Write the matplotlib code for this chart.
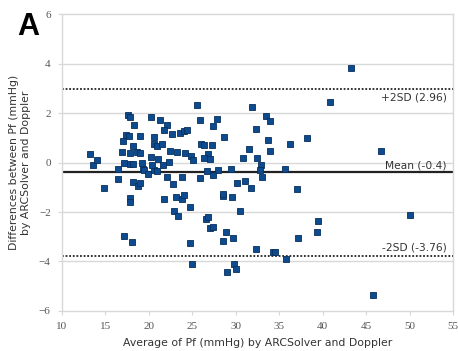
"""
Bland-Altman plot: ARCSolver vs Doppler (panel A)
"""
import matplotlib
matplotlib.use("Agg")
import matplotlib.pyplot as plt

# average of Pf (mmHg) and difference (mmHg)
avg = [13.2, 13.6, 14.05, 14.8, 16.5, 16.5, 16.9, 17.0, 17.2, 17.4,
       17.7, 17.6, 17.9, 17.8, 17.8, 18.2, 18.3, 18.2, 17.8, 17.9,
       17.1, 18.1, 18.2, 18.8, 19.0, 18.6, 19.0, 19.0, 19.2, 19.3,
       19.5, 19.9, 20.6, 21.0, 20.3, 20.6, 20.6, 21.0, 21.5, 20.3,
       21.1, 20.4, 21.6, 21.3, 22.1, 21.8, 22.7, 23.6, 24.05, 24.4,
       22.4, 23.2, 22.3, 24.2, 24.9, 25.1, 22.1, 22.8, 23.8, 21.8,
       23.1, 23.8, 24.0, 22.95, 23.4, 24.8, 24.75, 25.0, 25.6, 25.9,
       27.9, 27.4, 26.05, 26.3, 27.3, 26.8, 26.3, 27.1, 26.7, 28.0,
       25.9, 27.4, 28.65, 26.6, 26.8, 27.1, 27.4, 28.5, 28.6, 29.6,
       28.85, 28.6, 29.7, 29.0, 29.8, 30.0, 30.5, 30.1, 31.1, 31.8,
       33.05, 29.5, 30.9, 31.5, 31.9, 32.3, 32.5, 32.9, 32.8, 33.5,
       34.0, 33.7, 33.9, 35.7, 36.2, 37.0, 37.2, 38.2, 32.3, 34.3,
       34.5, 35.8, 39.5, 39.4, 40.9, 43.25, 46.7, 45.8, 50.0]
diff = [0.33, -0.11, 0.1, -1.04, -0.26, -0.65, 0.44, 0.86, -0.01, 1.11,
        1.07, 1.92, 1.83, 0.37, -0.04, -0.08, 1.52, 0.67, -1.45, -1.58,
        -2.98, -3.2, -0.78, -0.94, -0.84, 0.44, 0.37, 1.07, -0.01, -0.25,
        -0.32, -0.46, -0.3, -0.34, 1.85, 1.04, 0.76, 0.67, 0.74, 0.23,
        0.16, -0.1, -0.1, 1.72, 1.52, 1.31, 1.14, 1.2, 1.27, 1.31,
        0.46, 0.44, 0.03, 0.37, 0.27, 0.12, -0.6, -0.86, -0.6, -1.46,
        -1.41, -1.48, -1.3, -1.95, -2.15, -1.79, -3.27, -4.12, 2.33, 1.72,
        1.77, 1.47, 0.74, 0.71, 0.71, 0.36, 0.17, 0.15, -0.34, -0.32,
        -0.63, -0.51, 1.03, -2.27, -2.19, -2.66, -2.59, -1.36, -1.29, -1.38,
        -2.81, -3.17, -3.05, -4.42, -4.1, -4.32, -1.96, -0.81, -0.75, -1.02,
        -0.6, -0.28, 0.19, 0.53, 2.25, 1.35, 0.2, -0.12, -0.3, 1.89,
        1.68, 0.9, 0.46, -0.28, 0.74, -1.07, -3.06, 1.0, -3.48, -3.6,
        -3.6, -3.88, -2.35, -2.82, 2.46, 3.82, 0.45, -5.37, -2.12]

mean_diff = -0.4
upper = 2.96
lower = -3.76

fig = plt.figure(figsize=(4.58, 3.51), dpi=100)
ax = fig.add_axes([0.135, 0.114, 0.854, 0.846])

grid_c = "#d8d8d8"
for y in [-4, -2, 0, 2, 4]:
    ax.axhline(y, color=grid_c, lw=1.0, zorder=0)

ax.plot(avg, diff, "s", ms=4.6, color="#0d4b8e", mec="#06305e", mew=0.6, zorder=3)

ax.axhline(upper, color="#222222", lw=1.3, ls=(0, (1, 1)), zorder=2)
ax.axhline(mean_diff, color="#222222", lw=1.6, zorder=2)
ax.axhline(lower, color="#222222", lw=1.3, ls=(0, (1, 1)), zorder=2)

txt = dict(ha="right", fontsize=7.7, color="#333333", family="DejaVu Sans")
ax.text(54.3, upper - 0.15, "+2SD (2.96)", va="top", **txt)
ax.text(54.3, mean_diff + 0.08, "Mean (-0.4)", va="bottom", **txt)
ax.text(54.3, lower + 0.12, "-2SD (-3.76)", va="bottom", **txt)

ax.set_xlim(10, 55)
ax.set_ylim(-6, 6)
ax.set_xticks(range(10, 56, 5))
ax.set_yticks(range(-6, 7, 2))
for s in ax.spines.values():
    s.set_color(grid_c)
    s.set_linewidth(1.0)
ax.tick_params(colors=grid_c, length=3, width=0.8, labelcolor="#555555",
               labelsize=8, pad=5)
for lab in ax.get_xticklabels() + ax.get_yticklabels():
    lab.set_family("Liberation Serif")

ax.set_xlabel("Average of Pf (mmHg) by ARCSolver and Doppler",
              fontsize=7.8, color="#333333", labelpad=5)
ax.set_ylabel("Differences between Pf (mmHg)\nby ARCSolver and Doppler",
              fontsize=7.8, color="#333333", labelpad=6)

fig.text(0.038, 0.9, "A", fontsize=22, fontweight="bold", family="Liberation Sans")

plt.savefig("out.png", dpi=100)
